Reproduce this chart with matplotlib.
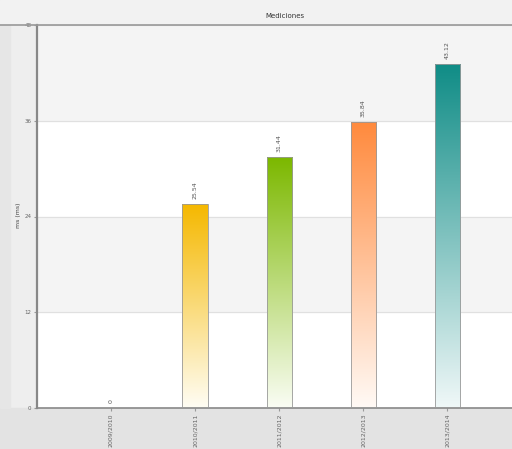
import numpy as np
import matplotlib.pyplot as plt
from matplotlib.colors import LinearSegmentedColormap
from matplotlib.patches import Rectangle

# Data
periods = ["2009/2010", "2010/2011", "2011/2012", "2012/2013", "2013/2014"]
values = [0, 25.54, 31.44, 35.84, 43.12]
top_colors = ["#f5b800", "#f5b800", "#7cb800", "#ff8a3d", "#0f8c86"]
bottom_colors = ["#ffffff", "#fffdf4", "#fafdf4", "#fffaf6", "#f0f8f8"]
yticks = [0, 12, 24, 36, 48]

fig = plt.figure(figsize=(5.12, 4.49), dpi=100, facecolor="#eeeeee")
ax = fig.add_axes([37 / 512, 41 / 449, 1 - 37 / 512, 383 / 449])
ax.set_facecolor("white")

# bottom band behind tick labels, title band, left strip
fig.patches.append(Rectangle((0, 0), 1, 41 / 449, transform=fig.transFigure,
                             color="#e3e3e3", zorder=-5))
fig.patches.append(Rectangle((0, 424 / 449), 1, 25 / 449, transform=fig.transFigure,
                             color="#f2f2f2", zorder=-5))
fig.patches.append(Rectangle((0, 41 / 449), 10 / 512, 383 / 449, transform=fig.transFigure,
                             color="#e6e6e6", zorder=-5))

# alternating bands
for i in range(len(yticks) - 1):
    if i % 2 == 1:
        ax.axhspan(yticks[i], yticks[i + 1], color="#f4f4f4", zorder=0)
    ax.axhline(yticks[i + 1], color="#e0e0e0", lw=0.8, zorder=0.5)

x = np.arange(len(periods))
bars = ax.bar(x, values, width=0.3, color="none", edgecolor="#999999", linewidth=0.6, zorder=3)

# gradient fill clipped to each bar
grad = np.linspace(0, 1, 256).reshape(-1, 1)
for b, c1, c2, v in zip(bars, top_colors, bottom_colors, values):
    if v <= 0:
        continue
    cmap = LinearSegmentedColormap.from_list("g", [c2, c1])
    bx, by = b.get_x(), b.get_y()
    im = ax.imshow(grad, cmap=cmap, aspect="auto", origin="lower",
                   extent=[bx, bx + b.get_width(), by, by + b.get_height()], zorder=2)
    im.set_clip_path(b)
ax.set_xlim(-0.88, 4.77)
ax.set_ylim(0, 48)

for xi, v in zip(x, values):
    label = "0" if v == 0 else f"{v:.2f}"
    ax.text(xi, v + 0.6, label, rotation=90, ha="center", va="bottom",
            fontsize=4.5, color="#555555")

ax.set_xticks(x)
ax.set_xticklabels(periods, rotation=90, fontsize=4.5, color="#666666")
ax.set_yticks(yticks)
ax.set_yticklabels([str(t) for t in yticks], fontsize=4, color="#666666")
ax.tick_params(axis="both", length=2, color="#999999", pad=2)

for s in ["top", "right"]:
    ax.spines[s].set_visible(False)
ax.spines["left"].set_color("#888888")
ax.spines["left"].set_linewidth(1.6)
ax.spines["bottom"].set_color("#888888")
ax.spines["bottom"].set_linewidth(1.2)

fig.text(0.557, 0.965, "Mediciones", ha="center", va="center", fontsize=5, color="#333333")
fig.text(0.036, 0.52, "ms (ms)", rotation=90, ha="center", va="center", fontsize=4.5, color="#444444")
fig.add_artist(plt.Line2D([0, 1], [424 / 449, 424 / 449], color="#999999", lw=1.2))

plt.savefig("out.png", dpi=100, facecolor=fig.get_facecolor())
